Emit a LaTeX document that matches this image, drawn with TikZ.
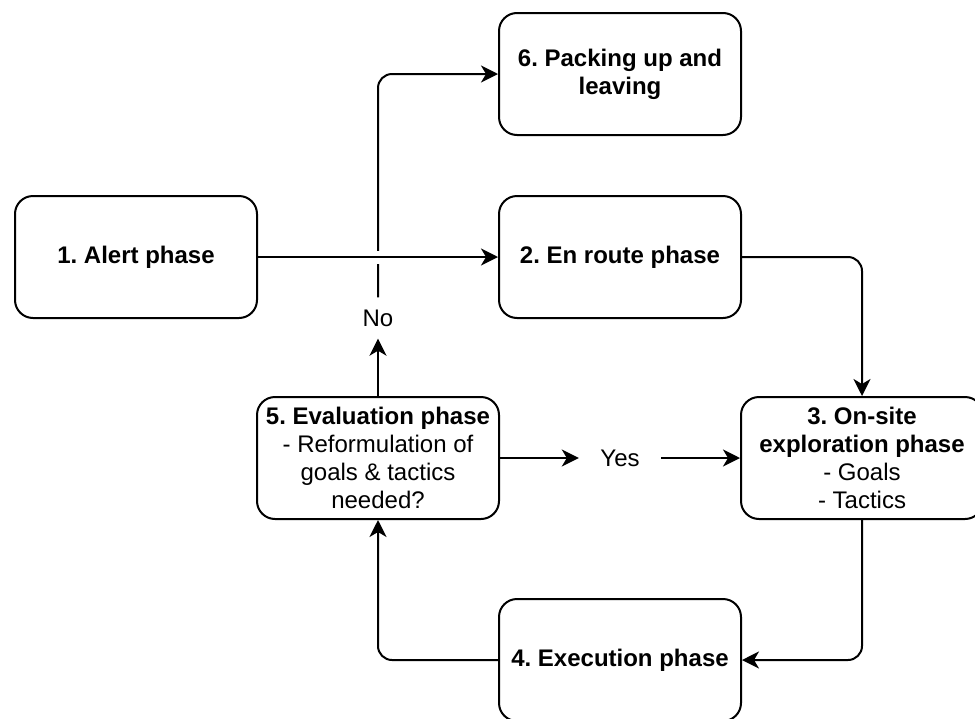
\documentclass[tikz,border=0pt]{standalone}
\usepackage{fontspec}
\setmainfont{Liberation Sans}
\usetikzlibrary{arrows.meta,calc}
\frenchspacing
\begin{document}
\begin{tikzpicture}[x=1pt,y=-1pt,
  phase/.style={draw=black, line width=2pt, rounded corners=18pt, minimum width=242pt, minimum height=122pt, inner sep=0pt, align=center, font=\fontsize{24}{28}\selectfont},
  lbl/.style={inner sep=0pt, font=\fontsize{24}{28}\selectfont},
  conn/.style={line width=2pt, rounded corners=14pt, -{Stealth[length=17pt,width=17pt,inset=5pt]}}
]
\useasboundingbox (0,0) rectangle (975,718);
\node[phase] (n6) at (620,74) {\textbf{6. Packing up and}\\\textbf{leaving}};
\node[phase] (n1) at (136,257) {\textbf{1. Alert phase}};
\node[phase] (n2) at (620,257) {\textbf{2. En route phase}};
\node[phase] (n5) at (378,458) {\textbf{5. Evaluation phase}\\- Reformulation of\\goals \& tactics\\needed?};
\node[phase] (n3) at (862,458) {\textbf{3. On-site}\\\textbf{exploration phase}\\- Goals\\- Tactics};
\node[phase] (n4) at (620,660) {\textbf{4. Execution phase}};
\node[lbl, minimum height=41pt, minimum width=40pt] (no) at (378,318) {No};
\node[lbl, minimum width=82pt, minimum height=30pt] (yes) at (620,458) {Yes};

\draw[conn] (no.north) |- (n6.west);
\coordinate (cross) at (no.north |- n1.east);
\fill[white] ($(cross)+(-4,-6.5)$) rectangle ($(cross)+(4,6.5)$);
\draw[conn] (n1.east) -- (n2.west);
\draw[conn] (n2.east) -| (n3.north);
\draw[conn] (n3.south) |- (n4.east);
\draw[conn] (n4.west) -| (n5.south);
\draw[conn] (n5.north) -- (no.south);
\draw[conn] (n5.east) -- (yes.west);
\draw[conn] (yes.east) -- (n3.west);
\end{tikzpicture}
\end{document}
